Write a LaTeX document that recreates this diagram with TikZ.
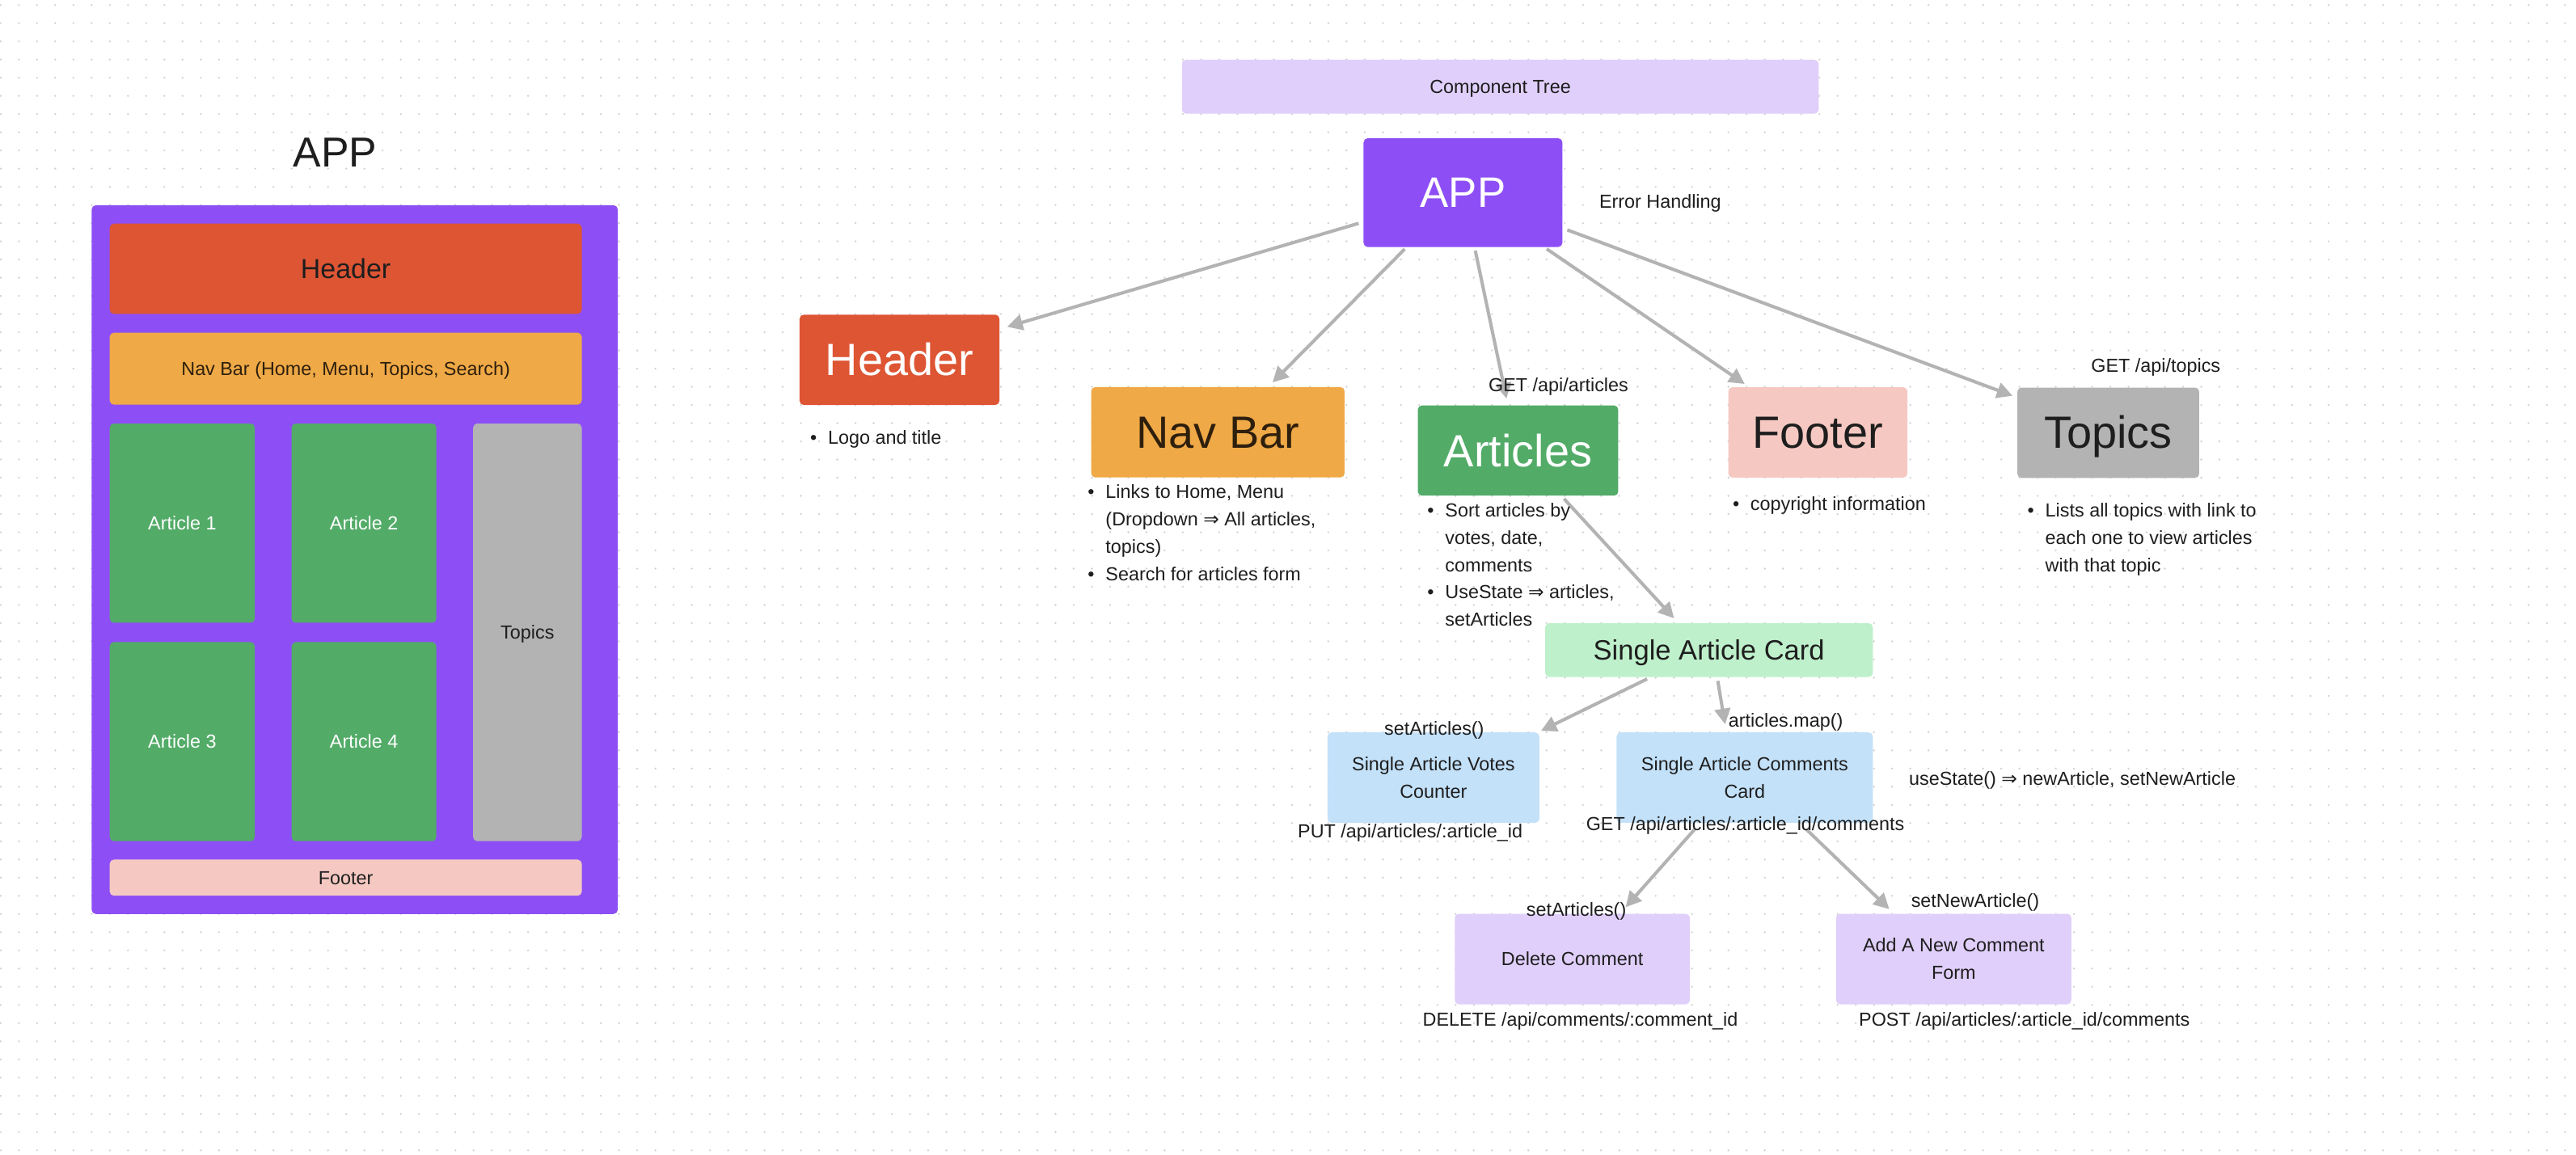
\documentclass[tikz,border=0pt]{standalone}
\usepackage{fontspec}
\setmainfont{Liberation Sans}
\newfontfamily\symf{DejaVu Sans}
\usetikzlibrary{arrows.meta}
\definecolor{cpurple}{HTML}{8D4FF5}
\definecolor{cred}{HTML}{DE5534}
\definecolor{corange}{HTML}{EFA946}
\definecolor{cgreen}{HTML}{52AB67}
\definecolor{cgray}{HTML}{B3B3B3}
\definecolor{cpink}{HTML}{F5C9C2}
\definecolor{clpurple}{HTML}{E0CFFA}
\definecolor{clgreen}{HTML}{BEF0CB}
\definecolor{clblue}{HTML}{C3E1F9}
\definecolor{ink}{HTML}{1E1E1E}
\definecolor{navink}{HTML}{2E1F0D}
\definecolor{dotc}{HTML}{D2D2D2}
\newcommand{\bu}{\llap{•\hspace{6.8pt}}}
\newcommand{\dar}{{\symf\fontsize{11.5}{16.6}\selectfont ⇒}}
\begin{document}
\begin{tikzpicture}[x=1pt,y=-1pt,
  box/.style={rounded corners=2.5pt, inner sep=0pt, outer sep=0pt, anchor=north west, align=center},
  sm/.style={font=\fontsize{11.5}{16.6}\selectfont, text height=#1, text depth=0pt},
  sm/.default=8.05pt,
  big/.style={font=\fontsize{27.5}{33}\selectfont, text height=19.25pt, text depth=0pt},
  lab/.style={inner sep=0pt, outer sep=0pt, text=ink, sm},
  bl/.style={inner sep=0pt, outer sep=0pt, text=ink, anchor=north west, align=left, sm=#1},
  bl/.default=8.05pt,
  arr/.style={draw=cgray, line width=2pt, -{Triangle[length=9.5pt,width=9.5pt]}},
  dotgrid/.style={draw=dotc, line width=1.3pt, line cap=round, dash pattern=on 0pt off 11.07pt}]
\useasboundingbox (0,0) rectangle (1568,702.8);
\fill[white] (0,0) rectangle (1568,702.8);
\foreach \k in {0,...,63} {
  \draw[dotgrid] (0.42,{3.05+11.07*\k}) -- (1568,{3.05+11.07*\k});
}

% ---------- left mock-up ----------
\node[lab, font=\fontsize{25.5}{30}\selectfont, text height=17.9pt] (ltitle) at (204,92.7) {APP};
\node[box, fill=cpurple, minimum width=320.2pt, minimum height=431.5pt] (lframe) at (55.8,125) {};
\node[box, fill=cred, minimum width=287.3pt, minimum height=54.9pt, text=ink,
      font=\fontsize{16.7}{20}\selectfont, text height=11.7pt, text depth=0pt] (lhdr) at (66.8,136.2) {Header};
\node[box, fill=corange, minimum width=287.3pt, minimum height=43.8pt, text=navink, sm] (lnav) at (66.8,202.6) {Nav Bar (Home, Menu, Topics, Search)};
\node[box, fill=cgreen, minimum width=88.3pt, minimum height=121.3pt, text=white, sm] (la1) at (66.8,257.9) {Article 1};
\node[box, fill=cgreen, minimum width=88.1pt, minimum height=121.3pt, text=white, sm] (la2) at (177.5,257.9) {Article 2};
\node[box, fill=cgreen, minimum width=88.3pt, minimum height=121.2pt, text=white, sm] (la3) at (66.8,391) {Article 3};
\node[box, fill=cgreen, minimum width=88.1pt, minimum height=121.2pt, text=white, sm] (la4) at (177.5,391) {Article 4};
\node[box, fill=cgray, minimum width=66.1pt, minimum height=254.3pt, text=ink, sm] (ltop) at (288,257.9) {Topics};
\node[box, fill=cpink, minimum width=287.3pt, minimum height=22pt, text=ink, sm] (lfoot) at (66.8,523.4) {Footer};

% ---------- component tree ----------
\node[box, fill=clpurple, minimum width=387.6pt, minimum height=32.8pt, text=ink, sm] (ctree) at (719.4,36.4) {Component Tree};
\node[box, fill=cpurple, minimum width=121pt, minimum height=66.2pt, text=white,
      font=\fontsize{26}{31}\selectfont, text height=18.2pt, text depth=0pt] (app) at (830,84.2) {APP};
\node[box, fill=cred, minimum width=121.6pt, minimum height=55pt, text=white, big] (hdr) at (486.7,191.6) {Header};
\node[box, fill=corange, minimum width=154.2pt, minimum height=55pt, text=navink, big] (nav) at (664.2,235.7) {Nav Bar};
\node[box, fill=cgreen, minimum width=122pt, minimum height=54.9pt, text=white, big] (art) at (863,246.9) {Articles};
\node[box, fill=cpink, minimum width=109pt, minimum height=55pt, text=ink, big] (foot) at (1052,235.8) {Footer};
\node[box, fill=cgray, minimum width=110.6pt, minimum height=55pt, text=ink, big] (top) at (1228,236) {Topics};
\node[box, fill=clgreen, minimum width=199.5pt, minimum height=32.7pt, text=ink,
      font=\fontsize{17}{20}\selectfont, text height=11.9pt, text depth=0pt] (sac) at (940.5,379.5) {Single Article Card};
\node[box, fill=clblue, minimum width=129pt, minimum height=55pt, text=ink, sm=24.65pt] (votes) at (808,446) {Single Article Votes\\Counter};
\node[box, fill=clblue, minimum width=156pt, minimum height=55pt, text=ink, sm=24.65pt] (comm) at (984,446) {Single Article Comments\\Card};
\node[box, fill=clpurple, minimum width=143.1pt, minimum height=55.1pt, text=ink, sm] (del) at (885.5,556.4) {Delete Comment};
\node[box, fill=clpurple, minimum width=143.2pt, minimum height=55.1pt, text=ink, sm=24.65pt] (add) at (1117.6,556.4) {Add A New Comment\\Form};

% ---------- connectors ----------
\draw[arr] ([shift={(-3,-14.4)}]app.south west) -- ([shift={(4.7,7.4)}]hdr.north east);
\draw[arr] ([shift={(25,1.3)}]app.south west) -- ([shift={(110.4,-2.8)}]nav.north west);
\draw[arr] ([shift={(68,2.2)}]app.south west) -- ([shift={(54,-4.2)}]art.north west);
\draw[arr] ([shift={(-9.5,1.2)}]app.south east) -- ([shift={(10,-2)}]foot.north west);
\draw[arr] ([shift={(3,-10.4)}]app.south east) -- ([shift={(-3,5)}]top.north west);
\draw[arr] ([shift={(89,1.9)}]art.south west) -- ([shift={(78.5,-3)}]sac.north west);
\draw[arr] ([shift={(62.1,1.2)}]sac.south west) -- ([shift={(1,-1)}]votes.north east);
\draw[arr] ([shift={(105.1,2.4)}]sac.south west) -- ([shift={(66,-5)}]comm.north west);
\draw[arr] ([shift={(47.5,4)}]comm.south west) -- ([shift={(104,-4)}]del.north west);
\draw[arr] ([shift={(115.5,4)}]comm.south west) -- ([shift={(32.4,-2.8)}]add.north west);

% ---------- labels ----------
\node[lab, anchor=west] (errh) at (973.5,122.7) {Error Handling};
\node[lab] (getart) at (948.6,234.6) {GET /api/articles};
\node[lab] (gettop) at (1312.2,222.6) {GET /api/topics};
\node[lab] (setv) at (873,443.5) {setArticles()};
\node[lab] (amap) at (1087,438.6) {articles.map()};
\node[lab, anchor=west] (ustate) at (1162,474) {useState() \dar{} newArticle, setNewArticle};
\node[lab] (put) at (858.4,506) {PUT /api/articles/:article\_id};
\node[lab] (getcom) at (1062.3,501.8) {GET /api/articles/:article\_id/comments};
\node[lab] (setd) at (959.5,554) {setArticles()};
\node[lab] (setn) at (1202.3,548.6) {setNewArticle()};
\node[lab] (dele) at (961.9,620.6) {DELETE /api/comments/:comment\_id};
\node[lab] (post) at (1232.2,620.6) {POST /api/articles/:article\_id/comments};

% ---------- bullet notes ----------
\node[bl] (bhdr) at (504,262.5) {\bu Logo and title};
\node[bl=57.85pt] (bnav) at (673,295.6) {\bu Links to Home, Menu\\(Dropdown \dar{} All articles,\\topics)\\\bu Search for articles form};
\node[bl=74.45pt] (bart) at (879.7,306.8) {\bu Sort articles by\\votes, date,\\comments\\\bu UseState \dar{} articles,\\setArticles};
\node[bl] (bfoot) at (1065.5,302.6) {\bu copyright information};
\node[bl=41.25pt] (btop) at (1245,306.9) {\bu Lists all topics with link to\\each one to view articles\\with that topic};
\end{tikzpicture}
\end{document}
